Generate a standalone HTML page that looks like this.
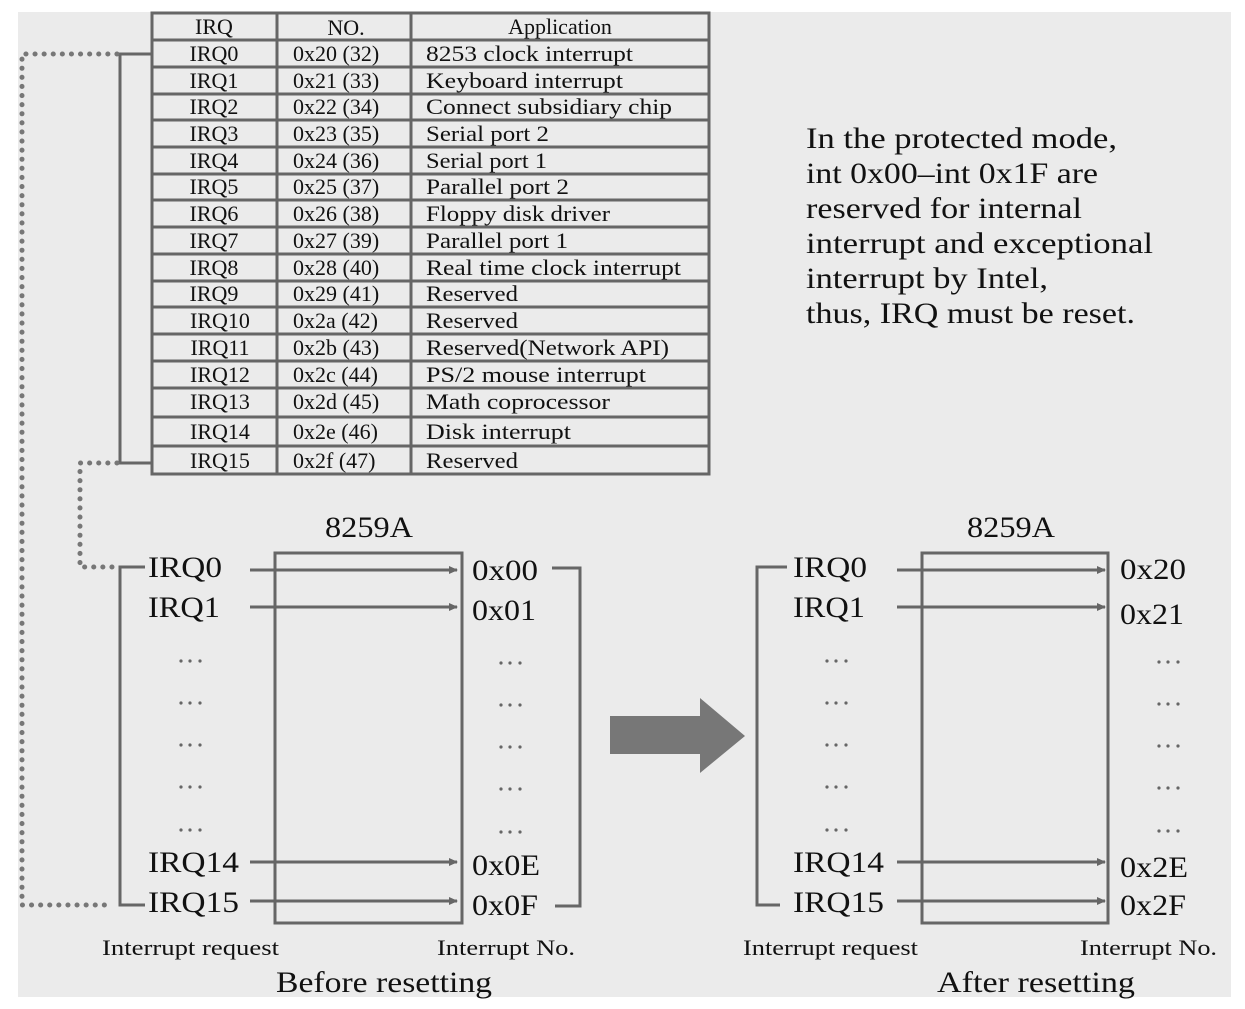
<!DOCTYPE html>
<html><head><meta charset="utf-8"><style>
html,body{margin:0;padding:0;background:#fff;}
svg{display:block;}
text{font-family:"Liberation Serif",serif;fill:#111;}
</style></head><body>
<svg width="1245" height="1009" viewBox="0 0 1245 1009" xmlns="http://www.w3.org/2000/svg">
<rect x="18" y="12" width="1213" height="985" fill="#ebebeb"/>
<defs>
<marker id="ah" markerWidth="10" markerHeight="10" refX="8" refY="4" orient="auto" markerUnits="userSpaceOnUse">
<path d="M0,0 L9,4 L0,8 z" fill="#666"/></marker>
</defs>
<!-- table -->
<g stroke="#666" stroke-width="3" fill="none">
<rect x="152" y="13" width="557" height="461"/>
<line x1="277" y1="13" x2="277" y2="474"/>
<line x1="411" y1="13" x2="411" y2="474"/>
<line x1="152" y1="40" x2="709" y2="40"/>
<line x1="152" y1="67" x2="709" y2="67"/>
<line x1="152" y1="94" x2="709" y2="94"/>
<line x1="152" y1="120" x2="709" y2="120"/>
<line x1="152" y1="147" x2="709" y2="147"/>
<line x1="152" y1="174" x2="709" y2="174"/>
<line x1="152" y1="200" x2="709" y2="200"/>
<line x1="152" y1="227" x2="709" y2="227"/>
<line x1="152" y1="254" x2="709" y2="254"/>
<line x1="152" y1="281" x2="709" y2="281"/>
<line x1="152" y1="307" x2="709" y2="307"/>
<line x1="152" y1="334" x2="709" y2="334"/>
<line x1="152" y1="361" x2="709" y2="361"/>
<line x1="152" y1="388" x2="709" y2="388"/>
<line x1="152" y1="417" x2="709" y2="417"/>
<line x1="152" y1="446" x2="709" y2="446"/>
</g>
<g font-size="22">
<text x="214" y="34" text-anchor="middle">IRQ</text>
<text x="346" y="35" text-anchor="middle">NO.</text>
<text x="560" y="34" text-anchor="middle">Application</text>
<g text-anchor="middle">
<text x="214" y="61">IRQ0</text><text x="214" y="88">IRQ1</text><text x="214" y="114">IRQ2</text>
<text x="214" y="141">IRQ3</text><text x="214" y="168">IRQ4</text><text x="214" y="194">IRQ5</text>
<text x="214" y="221">IRQ6</text><text x="214" y="248">IRQ7</text><text x="214" y="275">IRQ8</text>
<text x="214" y="301">IRQ9</text><text x="220" y="328">IRQ10</text><text x="220" y="355">IRQ11</text>
<text x="220" y="382">IRQ12</text><text x="220" y="409">IRQ13</text><text x="220" y="439">IRQ14</text>
<text x="220" y="468">IRQ15</text>
</g>
<g>
<text x="293" y="61">0x20 (32)</text><text x="293" y="88">0x21 (33)</text><text x="293" y="114">0x22 (34)</text>
<text x="293" y="141">0x23 (35)</text><text x="293" y="168">0x24 (36)</text><text x="293" y="194">0x25 (37)</text>
<text x="293" y="221">0x26 (38)</text><text x="293" y="248">0x27 (39)</text><text x="293" y="275">0x28 (40)</text>
<text x="293" y="301">0x29 (41)</text><text x="293" y="328">0x2a (42)</text><text x="293" y="355">0x2b (43)</text>
<text x="293" y="382">0x2c (44)</text><text x="293" y="409">0x2d (45)</text><text x="293" y="439">0x2e (46)</text>
<text x="293" y="468">0x2f (47)</text>
</g>
<g>
<text x="426" y="61" textLength="207" lengthAdjust="spacingAndGlyphs">8253 clock interrupt</text>
<text x="426" y="88" textLength="197" lengthAdjust="spacingAndGlyphs">Keyboard interrupt</text>
<text x="426" y="114" textLength="246" lengthAdjust="spacingAndGlyphs">Connect subsidiary chip</text>
<text x="426" y="141" textLength="123" lengthAdjust="spacingAndGlyphs">Serial port 2</text>
<text x="426" y="168" textLength="121" lengthAdjust="spacingAndGlyphs">Serial port 1</text>
<text x="426" y="194" textLength="143" lengthAdjust="spacingAndGlyphs">Parallel port 2</text>
<text x="426" y="221" textLength="184" lengthAdjust="spacingAndGlyphs">Floppy disk driver</text>
<text x="426" y="248" textLength="142" lengthAdjust="spacingAndGlyphs">Parallel port 1</text>
<text x="426" y="275" textLength="255" lengthAdjust="spacingAndGlyphs">Real time clock interrupt</text>
<text x="426" y="301" textLength="92" lengthAdjust="spacingAndGlyphs">Reserved</text>
<text x="426" y="328" textLength="92" lengthAdjust="spacingAndGlyphs">Reserved</text>
<text x="426" y="355" textLength="243" lengthAdjust="spacingAndGlyphs">Reserved(Network API)</text>
<text x="426" y="382" textLength="220" lengthAdjust="spacingAndGlyphs">PS/2 mouse interrupt</text>
<text x="426" y="409" textLength="184" lengthAdjust="spacingAndGlyphs">Math coprocessor</text>
<text x="426" y="439" textLength="145" lengthAdjust="spacingAndGlyphs">Disk interrupt</text>
<text x="426" y="468" textLength="92" lengthAdjust="spacingAndGlyphs">Reserved</text>
</g>
</g>
<!-- brackets -->
<g stroke="#666" stroke-width="3" fill="none">
<polyline points="152,54 120,54 120,463 152,463"/>
<polyline points="145,567 120,567 120,905 145,905"/>
<polyline points="552,568 580,568 580,906 555,906"/>
<polyline points="787,567 757,567 757,905 780,905"/>
<rect x="275" y="553" width="187" height="370"/>
<rect x="922" y="553" width="186" height="370"/>
</g>
<!-- dotted -->
<g stroke="#777" stroke-width="5" stroke-linecap="round" stroke-dasharray="0.1 9" fill="none">
<polyline points="117,54 22,54 22,905 112,905"/>
<polyline points="117,463 80,463 80,567 112,567"/>
</g>
<!-- arrows -->
<g stroke="#666" stroke-width="3" marker-end="url(#ah)">
<line x1="250" y1="570" x2="457" y2="570"/>
<line x1="250" y1="607" x2="457" y2="607"/>
<line x1="250" y1="862" x2="457" y2="862"/>
<line x1="250" y1="901" x2="457" y2="901"/>
<line x1="897" y1="570" x2="1105" y2="570"/>
<line x1="897" y1="607" x2="1105" y2="607"/>
<line x1="897" y1="862" x2="1105" y2="862"/>
<line x1="897" y1="901" x2="1105" y2="901"/>
</g>
<!-- dots -->
<g fill="#666">
<g id="dl">
<circle cx="181" cy="661" r="1.6"/><circle cx="190" cy="661" r="1.6"/><circle cx="200" cy="661" r="1.6"/>
<circle cx="181" cy="703" r="1.6"/><circle cx="190" cy="703" r="1.6"/><circle cx="200" cy="703" r="1.6"/>
<circle cx="181" cy="745" r="1.6"/><circle cx="190" cy="745" r="1.6"/><circle cx="200" cy="745" r="1.6"/>
<circle cx="181" cy="787" r="1.6"/><circle cx="190" cy="787" r="1.6"/><circle cx="200" cy="787" r="1.6"/>
<circle cx="181" cy="830" r="1.6"/><circle cx="190" cy="830" r="1.6"/><circle cx="200" cy="830" r="1.6"/>
</g>
<g transform="translate(320,2)"><use href="#dl"/></g>
<g transform="translate(646,0)"><use href="#dl"/></g>
<g transform="translate(978,1)"><use href="#dl"/></g>
</g>
<!-- big arrow -->
<polygon points="610,716 700,716 700,698 745,736 700,773 700,754 610,754" fill="#777"/>
<!-- labels -->
<g font-size="30">
<text x="325" y="537" textLength="88" lengthAdjust="spacingAndGlyphs">8259A</text>
<text x="967" y="537" textLength="88" lengthAdjust="spacingAndGlyphs">8259A</text>
<text x="148" y="577" textLength="74" lengthAdjust="spacingAndGlyphs">IRQ0</text>
<text x="148" y="617" textLength="72" lengthAdjust="spacingAndGlyphs">IRQ1</text>
<text x="148" y="872" textLength="91" lengthAdjust="spacingAndGlyphs">IRQ14</text>
<text x="148" y="912" textLength="91" lengthAdjust="spacingAndGlyphs">IRQ15</text>
<text x="472" y="580" textLength="66" lengthAdjust="spacingAndGlyphs">0x00</text>
<text x="472" y="620" textLength="64" lengthAdjust="spacingAndGlyphs">0x01</text>
<text x="472" y="875" textLength="68" lengthAdjust="spacingAndGlyphs">0x0E</text>
<text x="472" y="915" textLength="66" lengthAdjust="spacingAndGlyphs">0x0F</text>
<text x="793" y="577" textLength="74" lengthAdjust="spacingAndGlyphs">IRQ0</text>
<text x="793" y="617" textLength="72" lengthAdjust="spacingAndGlyphs">IRQ1</text>
<text x="793" y="872" textLength="91" lengthAdjust="spacingAndGlyphs">IRQ14</text>
<text x="793" y="912" textLength="91" lengthAdjust="spacingAndGlyphs">IRQ15</text>
<text x="1120" y="579" textLength="66" lengthAdjust="spacingAndGlyphs">0x20</text>
<text x="1120" y="624" textLength="64" lengthAdjust="spacingAndGlyphs">0x21</text>
<text x="1120" y="877" textLength="68" lengthAdjust="spacingAndGlyphs">0x2E</text>
<text x="1120" y="915" textLength="66" lengthAdjust="spacingAndGlyphs">0x2F</text>
<text x="276" y="992" textLength="216" lengthAdjust="spacingAndGlyphs">Before resetting</text>
<text x="937" y="992" textLength="198" lengthAdjust="spacingAndGlyphs">After resetting</text>
<text x="806" y="148" textLength="311" lengthAdjust="spacingAndGlyphs">In the protected mode,</text>
<text x="806" y="183" textLength="292" lengthAdjust="spacingAndGlyphs">int 0x00–int 0x1F are</text>
<text x="806" y="218" textLength="276" lengthAdjust="spacingAndGlyphs">reserved for internal</text>
<text x="806" y="253" textLength="347" lengthAdjust="spacingAndGlyphs">interrupt and exceptional</text>
<text x="806" y="288" textLength="242" lengthAdjust="spacingAndGlyphs">interrupt by Intel,</text>
<text x="806" y="323" textLength="329" lengthAdjust="spacingAndGlyphs">thus, IRQ must be reset.</text>
</g>
<g font-size="22">
<text x="102" y="955" textLength="177" lengthAdjust="spacingAndGlyphs">Interrupt request</text>
<text x="437" y="955" textLength="138" lengthAdjust="spacingAndGlyphs">Interrupt No.</text>
<text x="743" y="955" textLength="175" lengthAdjust="spacingAndGlyphs">Interrupt request</text>
<text x="1080" y="955" textLength="137" lengthAdjust="spacingAndGlyphs">Interrupt No.</text>
</g>
</svg>
</body></html>
